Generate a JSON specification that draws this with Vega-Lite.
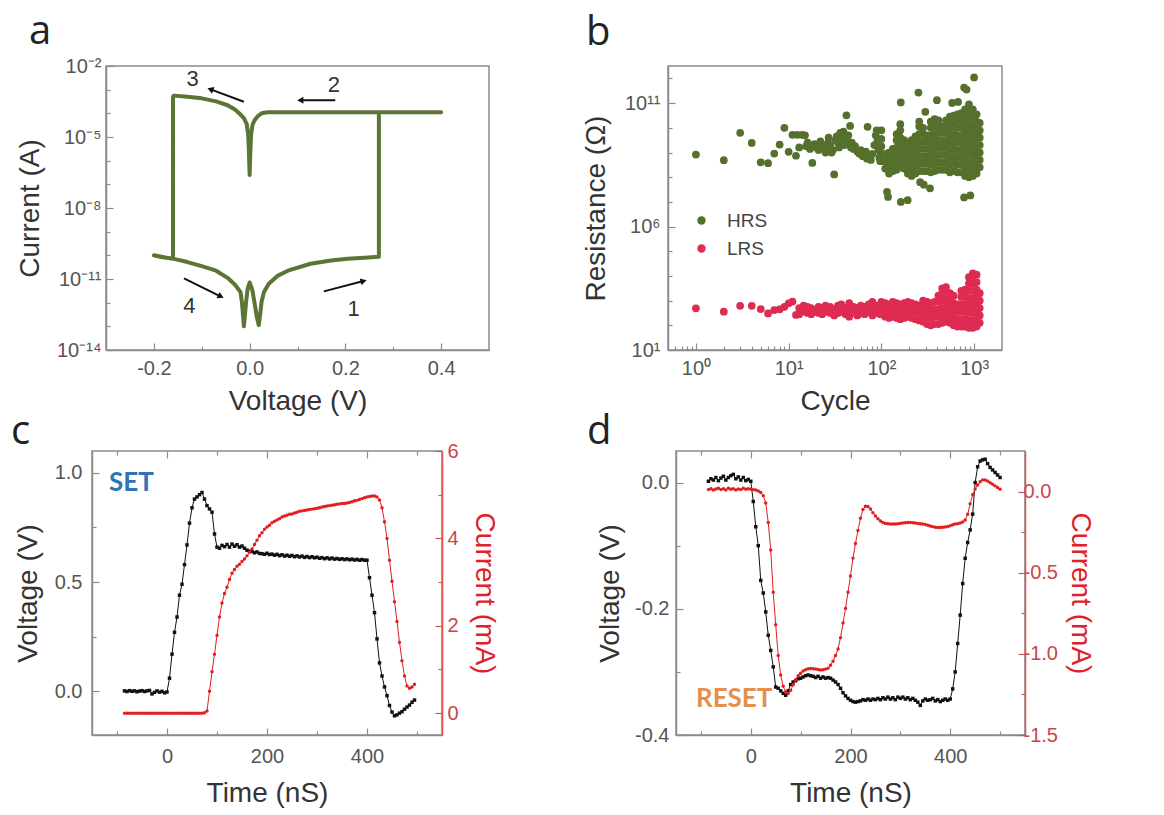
{
  "$schema": "https://vega.github.io/schema/vega-lite/v6.json",
  "background": "white",
  "padding": {"left": 10, "top": 11, "right": 4, "bottom": 4},
  "config": {
    "font": "Liberation Sans",
    "view": {"stroke": "#8c8c8c", "strokeWidth": 1.5},
    "axis": {"domainColor": "#8c8c8c", "domainWidth": 1.5, "tickColor": "#8c8c8c", "tickWidth": 1.2, "labelColor": "#555555", "labelFontSize": 20, "labelFont": "Liberation Sans", "titleFont": "Liberation Sans", "titleFontSize": 28, "titleFontWeight": "normal", "titleColor": "#333333", "grid": false, "labelFlush": false, "labelOverlap": false},
    "title": {"font": "Open Sans", "fontSize": 40, "fontWeight": "normal", "color": "#222222", "anchor": "start", "frame": "group", "baseline": "alphabetic"}
  },
  "datasets": {
    "iv": [{"k":1,"v":0,"i":7.1e-12},{"k":2,"v":0.006,"i":3.2e-12},{"k":3,"v":0.011,"i":7.9e-13},{"k":4,"v":0.015,"i":2.5e-13},{"k":5,"v":0.019,"i":1.12e-13},{"k":6,"v":0.022,"i":3.2e-13},{"k":7,"v":0.025,"i":1.12e-12},{"k":8,"v":0.03,"i":2.8e-12},{"k":9,"v":0.04,"i":6.3e-12},{"k":10,"v":0.058,"i":1.35e-11},{"k":11,"v":0.08,"i":2.24e-11},{"k":12,"v":0.127,"i":4.4e-11},{"k":13,"v":0.17,"i":6.0e-11},{"k":14,"v":0.204,"i":7.1e-11},{"k":15,"v":0.24,"i":7.9e-11},{"k":16,"v":0.27,"i":8.7e-11},{"k":17,"v":0.27,"i":1.12e-4},{"k":18,"v":0.4,"i":1.12e-4},{"k":19,"v":0.037,"i":1.12e-4},{"k":20,"v":0.025,"i":1.0e-4},{"k":21,"v":0.017,"i":7.6e-5},{"k":22,"v":0.01,"i":5.0e-5},{"k":23,"v":0.006,"i":3.2e-5},{"k":24,"v":0.003,"i":1.26e-5},{"k":25,"v":0.0015,"i":2.5e-6},{"k":26,"v":0,"i":2.5e-7},{"k":27,"v":-0.0015,"i":2.5e-6},{"k":28,"v":-0.003,"i":1.26e-5},{"k":29,"v":-0.006,"i":3.5e-5},{"k":30,"v":-0.012,"i":6.3e-5},{"k":31,"v":-0.019,"i":8.9e-5},{"k":32,"v":-0.03,"i":1.41e-4},{"k":33,"v":-0.046,"i":2.2e-4},{"k":34,"v":-0.07,"i":3.2e-4},{"k":35,"v":-0.1,"i":4.3e-4},{"k":36,"v":-0.13,"i":5.0e-4},{"k":37,"v":-0.158,"i":5.6e-4},{"k":38,"v":-0.16,"i":5.0e-4},{"k":39,"v":-0.16,"i":7.1e-11},{"k":40,"v":-0.2,"i":1.0e-10},{"k":41,"v":-0.185,"i":8.5e-11},{"k":42,"v":-0.158,"i":7.1e-11},{"k":43,"v":-0.13,"i":5.2e-11},{"k":44,"v":-0.1,"i":3.5e-11},{"k":45,"v":-0.07,"i":2.24e-11},{"k":46,"v":-0.046,"i":1.12e-11},{"k":47,"v":-0.03,"i":5.6e-12},{"k":48,"v":-0.019,"i":2.8e-12},{"k":49,"v":-0.016,"i":1.0e-12},{"k":50,"v":-0.0135,"i":2.5e-13},{"k":51,"v":-0.012,"i":1.0e-13},{"k":52,"v":-0.01,"i":2.8e-13},{"k":53,"v":-0.007,"i":1.26e-12},{"k":54,"v":-0.004,"i":4.0e-12},{"k":55,"v":0,"i":7.1e-12}],
    "hrs": [{"c":1,"r":8.3e8},{"c":2,"r":4.9e8},{"c":3,"r":6.3e9},{"c":4,"r":2.45e9},{"c":5,"r":4.0e8},{"c":6,"r":3.7e8},{"c":7,"r":9.1e8},{"c":8,"r":2.1e9},{"c":9,"r":1.0e10},{"c":10,"r":1.07e9},{"c":11,"r":5.2e9},{"c":12,"r":7.4e8},{"c":12.4,"r":5.2e9},{"c":13,"r":1.6e9},{"c":14,"r":5.2e9},{"c":15,"r":5.0e9},{"c":15.5,"r":1.8e9},{"c":16,"r":2.5e9},{"c":17,"r":1.4e9},{"c":18,"r":3.8e8},{"c":19,"r":2.2e9},{"c":20,"r":1.6e9},{"c":21,"r":1.26e9},{"c":21.5,"r":2.2e9},{"c":22,"r":2.8e9},{"c":23,"r":2.0e9},{"c":24,"r":1.4e9},{"c":25,"r":1.0e9},{"c":26,"r":1.6e9},{"c":26.5,"r":2.4e9},{"c":27,"r":4.0e9},{"c":28,"r":2.0e9},{"c":29,"r":1.0e9},{"c":30,"r":1.26e9},{"c":31,"r":1.3e8},{"c":32,"r":3.2e9},{"c":33,"r":4.5e9},{"c":34,"r":2.5e9},{"c":35,"r":1.6e9},{"c":36,"r":6.3e9},{"c":37,"r":4.0e9},{"c":38,"r":3.2e9},{"c":39,"r":7.1e9},{"c":40,"r":2.0e9},{"c":42,"r":3.2e10},{"c":43,"r":3.0e9},{"c":44,"r":5.0e9},{"c":46,"r":1.2e10},{"c":47,"r":1.6e9},{"c":48,"r":2.5e9},{"c":50,"r":1.4e9},{"c":52,"r":1.8e9},{"c":55,"r":1.1e9},{"c":58,"r":8.9e8},{"c":60,"r":1.26e9},{"c":63,"r":7.1e8},{"c":66,"r":7.9e8},{"c":68,"r":1.1e9},{"c":70,"r":5.6e8},{"c":71,"r":1.1e10},{"c":74,"r":7.1e8},{"c":77,"r":5.0e8},{"c":80,"r":8.9e8},{"c":84,"r":2.0e9},{"c":87,"r":5.0e9},{"c":89,"r":7.9e9},{"c":91,"r":3.2e9},{"c":93,"r":1.26e9},{"c":95,"r":6.3e8},{"c":97,"r":4.5e8},
      {"c":100,"r":4.47e8},{"c":100,"r":8.91e8},{"c":100,"r":1.78e9},{"c":100,"r":3.55e9},{"c":100,"r":7.94e9},
      {"c":110,"r":2.24e8},{"c":110,"r":4.47e8},{"c":110,"r":8.91e8},
      {"c":121,"r":1.41e8},{"c":121,"r":2.82e8},{"c":121,"r":5.62e8},{"c":121,"r":1e9},
      {"c":133,"r":1.78e8},{"c":133,"r":3.55e8},{"c":133,"r":7.08e8},{"c":133,"r":1.41e9},
      {"c":146,"r":2e8},{"c":146,"r":3.98e8},{"c":146,"r":7.94e8},{"c":146,"r":1.58e9},{"c":146,"r":3.16e9},{"c":146,"r":5.62e9},
      {"c":160,"r":2.51e8},{"c":160,"r":5.01e8},{"c":160,"r":1e9},{"c":160,"r":2e9},{"c":160,"r":3.98e9},{"c":160,"r":7.94e9},{"c":160,"r":1.41e10},
      {"c":176,"r":2.24e8},{"c":176,"r":4.47e8},{"c":176,"r":8.91e8},{"c":176,"r":1.78e9},{"c":176,"r":3.16e9},
      {"c":193,"r":1.41e8},{"c":193,"r":2.82e8},{"c":193,"r":5.62e8},{"c":193,"r":1.12e9},{"c":193,"r":2.24e9},
      {"c":212,"r":1.12e8},{"c":212,"r":2.24e8},{"c":212,"r":4.47e8},{"c":212,"r":8.91e8},{"c":212,"r":1.78e9},{"c":212,"r":3.16e9},
      {"c":233,"r":1.41e8},{"c":233,"r":2.82e8},{"c":233,"r":5.62e8},{"c":233,"r":1.12e9},{"c":233,"r":2.24e9},{"c":233,"r":4.47e9},
      {"c":256,"r":1.78e8},{"c":256,"r":3.55e8},{"c":256,"r":7.08e8},{"c":256,"r":1.41e9},{"c":256,"r":2.82e9},{"c":256,"r":5.62e9},{"c":256,"r":1.12e10},{"c":256,"r":1.78e10},
      {"c":282,"r":1.78e8},{"c":282,"r":3.55e8},{"c":282,"r":7.08e8},{"c":282,"r":1.41e9},{"c":282,"r":2.82e9},{"c":282,"r":5.62e9},{"c":282,"r":1e10},
      {"c":310,"r":1.78e8},{"c":310,"r":3.55e8},{"c":310,"r":7.08e8},{"c":310,"r":1.41e9},{"c":310,"r":2.82e9},{"c":310,"r":5.01e9},
      {"c":341,"r":1.58e8},{"c":341,"r":3.16e8},{"c":341,"r":6.31e8},{"c":341,"r":1.26e9},{"c":341,"r":2.51e9},{"c":341,"r":5.01e9},{"c":341,"r":1e10},{"c":341,"r":1.78e10},
      {"c":375,"r":1.78e8},{"c":375,"r":3.55e8},{"c":375,"r":7.08e8},{"c":375,"r":1.41e9},{"c":375,"r":2.82e9},{"c":375,"r":5.62e9},{"c":375,"r":1.12e10},{"c":375,"r":2.24e10},
      {"c":412,"r":2e8},{"c":412,"r":3.98e8},{"c":412,"r":7.94e8},{"c":412,"r":1.58e9},{"c":412,"r":3.16e9},{"c":412,"r":6.31e9},{"c":412,"r":1.26e10},{"c":412,"r":2e10},
      {"c":453,"r":2e8},{"c":453,"r":3.98e8},{"c":453,"r":7.94e8},{"c":453,"r":1.58e9},{"c":453,"r":3.16e9},{"c":453,"r":6.31e9},{"c":453,"r":1.12e10},
      {"c":498,"r":2e8},{"c":498,"r":3.98e8},{"c":498,"r":7.94e8},{"c":498,"r":1.58e9},{"c":498,"r":3.16e9},{"c":498,"r":6.31e9},{"c":498,"r":1.26e10},{"c":498,"r":2e10},
      {"c":548,"r":1.58e8},{"c":548,"r":3.16e8},{"c":548,"r":6.31e8},{"c":548,"r":1.26e9},{"c":548,"r":2.51e9},{"c":548,"r":5.01e9},{"c":548,"r":1e10},{"c":548,"r":2e10},{"c":548,"r":2.82e10},
      {"c":602,"r":1.78e8},{"c":602,"r":3.55e8},{"c":602,"r":7.08e8},{"c":602,"r":1.41e9},{"c":602,"r":2.82e9},{"c":602,"r":5.62e9},{"c":602,"r":1.12e10},{"c":602,"r":2.24e10},{"c":602,"r":3.16e10},
      {"c":662,"r":1.58e8},{"c":662,"r":3.16e8},{"c":662,"r":6.31e8},{"c":662,"r":1.26e9},{"c":662,"r":2.51e9},{"c":662,"r":5.01e9},{"c":662,"r":1e10},{"c":662,"r":2e10},{"c":662,"r":3.55e10},
      {"c":728,"r":1.58e8},{"c":728,"r":3.16e8},{"c":728,"r":6.31e8},{"c":728,"r":1.26e9},{"c":728,"r":2.51e9},{"c":728,"r":5.01e9},{"c":728,"r":1e10},{"c":728,"r":2e10},{"c":728,"r":3.98e10},
      {"c":800,"r":1.12e8},{"c":800,"r":2.24e8},{"c":800,"r":4.47e8},{"c":800,"r":8.91e8},{"c":800,"r":1.78e9},{"c":800,"r":3.55e9},{"c":800,"r":7.08e9},{"c":800,"r":1.41e10},{"c":800,"r":2.82e10},{"c":800,"r":5.62e10},
      {"c":880,"r":1e8},{"c":880,"r":2e8},{"c":880,"r":3.98e8},{"c":880,"r":7.94e8},{"c":880,"r":1.58e9},{"c":880,"r":3.16e9},{"c":880,"r":6.31e9},{"c":880,"r":1.26e10},{"c":880,"r":2.51e10},{"c":880,"r":5.01e10},{"c":880,"r":8.91e10},
      {"c":968,"r":1.12e8},{"c":968,"r":2.24e8},{"c":968,"r":4.47e8},{"c":968,"r":8.91e8},{"c":968,"r":1.78e9},{"c":968,"r":3.55e9},{"c":968,"r":7.08e9},{"c":968,"r":1.41e10},{"c":968,"r":2.82e10},{"c":968,"r":5.62e10},
      {"c":1064,"r":1.41e8},{"c":1064,"r":2.82e8},{"c":1064,"r":5.62e8},{"c":1064,"r":1.12e9},{"c":1064,"r":2.24e9},{"c":1064,"r":4.47e9},{"c":1064,"r":8.91e9},{"c":1064,"r":1.78e10},{"c":1064,"r":3.55e10},
      {"c":1150,"r":2.51e8},{"c":1150,"r":5.01e8},{"c":1150,"r":1e9},{"c":1150,"r":2e9},{"c":1150,"r":3.98e9},{"c":1150,"r":7.94e9},{"c":1150,"r":1.58e10},
      {"c":115,"r":2.57e7},{"c":118,"r":1.58e7},{"c":162,"r":1.07e11},{"c":162,"r":1e7},{"c":192,"r":1.17e7},{"c":251,"r":2.69e11},{"c":262,"r":6.3e7},{"c":287,"r":5.0e7},{"c":298,"r":4.47e10},{"c":335,"r":3.55e7},{"c":397,"r":1.32e11},{"c":580,"r":1.02e11},{"c":672,"r":1.12e11},{"c":780,"r":4.27e11},{"c":830,"r":3.55e11},{"c":780,"r":1.51e7},{"c":910,"r":1.82e7},{"c":1000,"r":1.1e12}],
    "lrs": [{"c":1,"r":490},{"c":2,"r":355},{"c":3,"r":617},{"c":4,"r":617},{"c":5,"r":457},{"c":6,"r":302},{"c":7,"r":417},{"c":8,"r":447},{"c":9,"r":562},{"c":10,"r":776},{"c":11,"r":912},{"c":12,"r":263},
      {"c":13,"r":282},{"c":13,"r":501},{"c":14.5,"r":355},{"c":14.5,"r":631},{"c":16,"r":316},{"c":16,"r":562},{"c":17.5,"r":282},{"c":17.5,"r":501},{"c":19,"r":355},{"c":21,"r":316},{"c":21,"r":562},{"c":23,"r":282},{"c":23,"r":501},{"c":25,"r":355},{"c":25,"r":631},{"c":28,"r":316},{"c":28,"r":562},{"c":31,"r":251},{"c":31,"r":447},{"c":34,"r":316},{"c":34,"r":631},{"c":37,"r":355},{"c":37,"r":708},{"c":41,"r":282},{"c":41,"r":501},{"c":45,"r":224},{"c":45,"r":447},{"c":45,"r":794},{"c":50,"r":316},{"c":50,"r":562},{"c":55,"r":251},{"c":55,"r":501},{"c":60,"r":316},{"c":60,"r":631},{"c":66,"r":282},{"c":66,"r":562},{"c":73,"r":355},{"c":73,"r":708},{"c":80,"r":251},{"c":80,"r":501},{"c":80,"r":891},{"c":88,"r":316},{"c":88,"r":631},{"c":97,"r":282},{"c":97,"r":562},
      {"c":100,"r":282},{"c":100,"r":562},{"c":100,"r":891},
      {"c":110,"r":224},{"c":110,"r":447},{"c":110,"r":794},
      {"c":121,"r":200},{"c":121,"r":398},{"c":121,"r":708},
      {"c":133,"r":224},{"c":133,"r":447},{"c":133,"r":891},
      {"c":146,"r":200},{"c":146,"r":398},{"c":146,"r":794},
      {"c":160,"r":178},{"c":160,"r":355},{"c":160,"r":708},
      {"c":176,"r":200},{"c":176,"r":398},{"c":176,"r":794},
      {"c":193,"r":224},{"c":193,"r":447},{"c":193,"r":891},
      {"c":212,"r":200},{"c":212,"r":398},{"c":212,"r":794},
      {"c":233,"r":178},{"c":233,"r":355},{"c":233,"r":708},
      {"c":256,"r":158},{"c":256,"r":316},{"c":256,"r":631},
      {"c":282,"r":141},{"c":282,"r":282},{"c":282,"r":562},{"c":282,"r":1000},
      {"c":310,"r":112},{"c":310,"r":224},{"c":310,"r":447},{"c":310,"r":891},
      {"c":341,"r":100},{"c":341,"r":200},{"c":341,"r":398},{"c":341,"r":794},
      {"c":375,"r":112},{"c":375,"r":224},{"c":375,"r":447},{"c":375,"r":891},
      {"c":412,"r":112},{"c":412,"r":224},{"c":412,"r":447},{"c":412,"r":891},{"c":412,"r":1585},
      {"c":453,"r":126},{"c":453,"r":251},{"c":453,"r":501},{"c":453,"r":1000},{"c":453,"r":1995},{"c":453,"r":3162},
      {"c":498,"r":141},{"c":498,"r":282},{"c":498,"r":562},{"c":498,"r":1122},{"c":498,"r":2239},{"c":498,"r":3548},
      {"c":548,"r":126},{"c":548,"r":251},{"c":548,"r":501},{"c":548,"r":1000},{"c":548,"r":1995},
      {"c":602,"r":100},{"c":602,"r":200},{"c":602,"r":398},{"c":602,"r":794},{"c":602,"r":1585},
      {"c":662,"r":89},{"c":662,"r":178},{"c":662,"r":355},{"c":662,"r":708},
      {"c":728,"r":89},{"c":728,"r":178},{"c":728,"r":355},{"c":728,"r":708},{"c":728,"r":1413},{"c":728,"r":2512},
      {"c":800,"r":89},{"c":800,"r":178},{"c":800,"r":355},{"c":800,"r":708},{"c":800,"r":1413},{"c":800,"r":2818},
      {"c":880,"r":79},{"c":880,"r":158},{"c":880,"r":316},{"c":880,"r":631},{"c":880,"r":1259},{"c":880,"r":2512},{"c":880,"r":5012},{"c":880,"r":8913},
      {"c":968,"r":79},{"c":968,"r":158},{"c":968,"r":316},{"c":968,"r":631},{"c":968,"r":1259},{"c":968,"r":2512},{"c":968,"r":5012},{"c":968,"r":10000},{"c":968,"r":12589},
      {"c":1064,"r":89},{"c":1064,"r":178},{"c":1064,"r":355},{"c":1064,"r":708},{"c":1064,"r":1413},{"c":1064,"r":2818},{"c":1064,"r":5623},{"c":1064,"r":11220},
      {"c":1150,"r":126},{"c":1150,"r":251},{"c":1150,"r":501},{"c":1150,"r":1000},{"c":1150,"r":1995}],
    "setp": [{"t":-85,"v":0.002,"i":0},{"t":-80,"v":-0.001,"i":0},{"t":-75,"v":0.003,"i":0},{"t":-70,"v":0.0,"i":0},{"t":-65,"v":0.002,"i":0},{"t":-60,"v":-0.002,"i":0},{"t":-55,"v":0.001,"i":0},{"t":-50,"v":0.003,"i":0},{"t":-45,"v":-0.001,"i":0},{"t":-40,"v":0.002,"i":0},{"t":-35,"v":0.004,"i":0},{"t":-30,"v":-0.012,"i":0},{"t":-25,"v":-0.005,"i":0},{"t":-20,"v":0.002,"i":0},{"t":-15,"v":-0.004,"i":0},{"t":-10,"v":0.0,"i":0},{"t":-5,"v":-0.007,"i":0},{"t":0,"v":-0.003,"i":0},{"t":5,"v":0.06,"i":0},{"t":10,"v":0.17,"i":0},{"t":15,"v":0.27,"i":0},{"t":20,"v":0.34,"i":0},{"t":25,"v":0.44,"i":0},{"t":30,"v":0.49,"i":0},{"t":35,"v":0.58,"i":0},{"t":40,"v":0.67,"i":0},{"t":45,"v":0.77,"i":0},{"t":50,"v":0.84,"i":0},{"t":55,"v":0.88,"i":0},{"t":60,"v":0.89,"i":0},{"t":65,"v":0.9,"i":0},{"t":70,"v":0.91,"i":0},{"t":75,"v":0.88,"i":0.01},{"t":80,"v":0.85,"i":0.05},{"t":85,"v":0.835,"i":0.5},{"t":90,"v":0.82,"i":0.95},{"t":95,"v":0.72,"i":1.35},{"t":100,"v":0.66,"i":1.78},{"t":105,"v":0.655,"i":2.2},{"t":110,"v":0.668,"i":2.52},{"t":115,"v":0.662,"i":2.74},{"t":120,"v":0.672,"i":2.88},{"t":125,"v":0.66,"i":3.06},{"t":130,"v":0.674,"i":3.2},{"t":135,"v":0.664,"i":3.29},{"t":140,"v":0.671,"i":3.36},{"t":145,"v":0.66,"i":3.41},{"t":150,"v":0.665,"i":3.47},{"t":155,"v":0.655,"i":3.53},{"t":160,"v":0.646,"i":3.6},{"t":165,"v":0.641,"i":3.68},{"t":170,"v":0.64,"i":3.76},{"t":175,"v":0.634,"i":3.86},{"t":180,"v":0.638,"i":3.96},{"t":185,"v":0.631,"i":4.06},{"t":190,"v":0.63,"i":4.13},{"t":195,"v":0.627,"i":4.21},{"t":200,"v":0.632,"i":4.26},{"t":205,"v":0.626,"i":4.3},{"t":210,"v":0.628,"i":4.36},{"t":215,"v":0.623,"i":4.39},{"t":220,"v":0.627,"i":4.42},{"t":225,"v":0.621,"i":4.45},{"t":230,"v":0.625,"i":4.49},{"t":235,"v":0.619,"i":4.51},{"t":240,"v":0.623,"i":4.53},{"t":245,"v":0.618,"i":4.55},{"t":250,"v":0.622,"i":4.56},{"t":255,"v":0.616,"i":4.58},{"t":260,"v":0.62,"i":4.6},{"t":265,"v":0.615,"i":4.62},{"t":270,"v":0.619,"i":4.63},{"t":275,"v":0.613,"i":4.64},{"t":280,"v":0.617,"i":4.65},{"t":285,"v":0.612,"i":4.66},{"t":290,"v":0.616,"i":4.67},{"t":295,"v":0.611,"i":4.68},{"t":300,"v":0.614,"i":4.69},{"t":305,"v":0.609,"i":4.7},{"t":310,"v":0.612,"i":4.72},{"t":315,"v":0.607,"i":4.73},{"t":320,"v":0.611,"i":4.74},{"t":325,"v":0.606,"i":4.75},{"t":330,"v":0.61,"i":4.76},{"t":335,"v":0.605,"i":4.77},{"t":340,"v":0.608,"i":4.78},{"t":345,"v":0.604,"i":4.79},{"t":350,"v":0.607,"i":4.8},{"t":355,"v":0.603,"i":4.8},{"t":360,"v":0.606,"i":4.81},{"t":365,"v":0.602,"i":4.82},{"t":370,"v":0.605,"i":4.84},{"t":375,"v":0.601,"i":4.86},{"t":380,"v":0.604,"i":4.87},{"t":385,"v":0.6,"i":4.89},{"t":390,"v":0.603,"i":4.91},{"t":395,"v":0.6,"i":4.93},{"t":400,"v":0.6,"i":4.95},{"t":405,"v":0.52,"i":4.96},{"t":410,"v":0.44,"i":4.97},{"t":415,"v":0.36,"i":4.97},{"t":420,"v":0.24,"i":4.95},{"t":425,"v":0.13,"i":4.88},{"t":430,"v":0.07,"i":4.7},{"t":435,"v":0.02,"i":4.38},{"t":440,"v":-0.02,"i":4.0},{"t":445,"v":-0.065,"i":3.5},{"t":450,"v":-0.095,"i":3.02},{"t":455,"v":-0.112,"i":2.55},{"t":460,"v":-0.108,"i":2.1},{"t":465,"v":-0.1,"i":1.62},{"t":470,"v":-0.093,"i":1.2},{"t":475,"v":-0.082,"i":0.85},{"t":480,"v":-0.072,"i":0.62},{"t":485,"v":-0.063,"i":0.57},{"t":490,"v":-0.05,"i":0.6},{"t":495,"v":-0.04,"i":0.66}],
    "resetp": [{"t":-85,"v":0.002,"i":0.012},{"t":-80,"v":0.006,"i":0.018},{"t":-75,"v":0.004,"i":0.01},{"t":-70,"v":0.008,"i":0.016},{"t":-65,"v":0.003,"i":0.02},{"t":-60,"v":0.007,"i":0.012},{"t":-55,"v":0.01,"i":0.017},{"t":-50,"v":0.004,"i":0.01},{"t":-45,"v":0.008,"i":0.02},{"t":-40,"v":0.011,"i":0.014},{"t":-35,"v":0.013,"i":0.018},{"t":-30,"v":0.006,"i":0.01},{"t":-25,"v":0.009,"i":0.016},{"t":-20,"v":0.004,"i":0.012},{"t":-15,"v":0.008,"i":0.02},{"t":-10,"v":0.003,"i":0.014},{"t":-5,"v":0.005,"i":0.018},{"t":0,"v":0.002,"i":0.015},{"t":5,"v":-0.03,"i":0.012},{"t":10,"v":-0.07,"i":0.01},{"t":15,"v":-0.1,"i":0.003},{"t":20,"v":-0.155,"i":-0.005},{"t":25,"v":-0.175,"i":-0.025},{"t":30,"v":-0.205,"i":-0.07},{"t":35,"v":-0.242,"i":-0.19},{"t":40,"v":-0.266,"i":-0.36},{"t":45,"v":-0.292,"i":-0.62},{"t":50,"v":-0.324,"i":-0.82},{"t":55,"v":-0.326,"i":-1.01},{"t":60,"v":-0.33,"i":-1.13},{"t":65,"v":-0.334,"i":-1.2},{"t":70,"v":-0.337,"i":-1.235},{"t":75,"v":-0.33,"i":-1.245},{"t":80,"v":-0.32,"i":-1.225},{"t":85,"v":-0.316,"i":-1.19},{"t":90,"v":-0.314,"i":-1.16},{"t":95,"v":-0.311,"i":-1.135},{"t":100,"v":-0.31,"i":-1.12},{"t":105,"v":-0.308,"i":-1.105},{"t":110,"v":-0.306,"i":-1.098},{"t":115,"v":-0.305,"i":-1.092},{"t":120,"v":-0.306,"i":-1.09},{"t":125,"v":-0.307,"i":-1.092},{"t":130,"v":-0.309,"i":-1.093},{"t":135,"v":-0.307,"i":-1.096},{"t":140,"v":-0.31,"i":-1.1},{"t":145,"v":-0.308,"i":-1.098},{"t":150,"v":-0.31,"i":-1.094},{"t":155,"v":-0.309,"i":-1.088},{"t":160,"v":-0.31,"i":-1.07},{"t":165,"v":-0.313,"i":-1.045},{"t":170,"v":-0.316,"i":-1.01},{"t":175,"v":-0.32,"i":-0.97},{"t":180,"v":-0.326,"i":-0.9},{"t":185,"v":-0.333,"i":-0.81},{"t":190,"v":-0.338,"i":-0.72},{"t":195,"v":-0.342,"i":-0.62},{"t":200,"v":-0.345,"i":-0.52},{"t":205,"v":-0.347,"i":-0.41},{"t":210,"v":-0.348,"i":-0.32},{"t":215,"v":-0.347,"i":-0.24},{"t":220,"v":-0.346,"i":-0.165},{"t":225,"v":-0.344,"i":-0.11},{"t":230,"v":-0.345,"i":-0.09},{"t":235,"v":-0.343,"i":-0.092},{"t":240,"v":-0.345,"i":-0.108},{"t":245,"v":-0.343,"i":-0.13},{"t":250,"v":-0.344,"i":-0.15},{"t":255,"v":-0.342,"i":-0.168},{"t":260,"v":-0.344,"i":-0.182},{"t":265,"v":-0.341,"i":-0.19},{"t":270,"v":-0.343,"i":-0.196},{"t":275,"v":-0.34,"i":-0.198},{"t":280,"v":-0.343,"i":-0.2},{"t":285,"v":-0.341,"i":-0.2},{"t":290,"v":-0.344,"i":-0.2},{"t":295,"v":-0.34,"i":-0.198},{"t":300,"v":-0.342,"i":-0.196},{"t":305,"v":-0.34,"i":-0.194},{"t":310,"v":-0.343,"i":-0.192},{"t":315,"v":-0.341,"i":-0.19},{"t":320,"v":-0.344,"i":-0.19},{"t":325,"v":-0.342,"i":-0.192},{"t":330,"v":-0.345,"i":-0.194},{"t":335,"v":-0.348,"i":-0.196},{"t":340,"v":-0.353,"i":-0.198},{"t":345,"v":-0.346,"i":-0.2},{"t":350,"v":-0.343,"i":-0.203},{"t":355,"v":-0.345,"i":-0.207},{"t":360,"v":-0.344,"i":-0.212},{"t":365,"v":-0.342,"i":-0.216},{"t":370,"v":-0.346,"i":-0.22},{"t":375,"v":-0.344,"i":-0.222},{"t":380,"v":-0.347,"i":-0.222},{"t":385,"v":-0.345,"i":-0.22},{"t":390,"v":-0.343,"i":-0.218},{"t":395,"v":-0.345,"i":-0.215},{"t":400,"v":-0.343,"i":-0.21},{"t":405,"v":-0.327,"i":-0.205},{"t":410,"v":-0.3,"i":-0.2},{"t":415,"v":-0.255,"i":-0.198},{"t":420,"v":-0.21,"i":-0.194},{"t":425,"v":-0.16,"i":-0.188},{"t":430,"v":-0.12,"i":-0.175},{"t":435,"v":-0.095,"i":-0.14},{"t":440,"v":-0.075,"i":-0.075},{"t":445,"v":-0.05,"i":-0.02},{"t":450,"v":0.0,"i":0.015},{"t":455,"v":0.025,"i":0.04},{"t":460,"v":0.034,"i":0.06},{"t":465,"v":0.036,"i":0.072},{"t":470,"v":0.037,"i":0.072},{"t":475,"v":0.03,"i":0.065},{"t":480,"v":0.024,"i":0.055},{"t":485,"v":0.02,"i":0.045},{"t":490,"v":0.016,"i":0.035},{"t":495,"v":0.012,"i":0.025},{"t":500,"v":0.008,"i":0.014}]
  },
  "vconcat": [
    {
      "hconcat": [
        {
          "width": 1, "height": 284,
          "view": {"stroke": null},
          "data": {"values": []},
          "mark": {"type": "point", "opacity": 0},
          "encoding": {}
        },
        {
          "hconcat": [
            {
              "width": 383, "height": 284,
              "title": {"text": "a", "dx": -77, "offset": 4},
              "layer": [
                {
                  "data": {"name": "iv"},
                  "mark": {"type": "line", "color": "#5b7534", "strokeWidth": 4, "strokeJoin": "round", "strokeCap": "round"},
                  "encoding": {
                    "x": {"field": "v", "type": "quantitative", "scale": {"domain": [-0.3, 0.5], "nice": false, "zero": false},
                      "axis": {"title": "Voltage (V)", "values": [-0.2, -0.1, 0, 0.1, 0.2, 0.3, 0.4], "labelExpr": "abs(round(datum.value*10)) % 2 == 0 ? replace(format(datum.value, '.1f'), '−', '-') : ''", "tickSize": {"condition": {"test": "abs(round(datum.value*10)) % 2 == 0", "value": -7}, "value": -4}, "labelPadding": 15, "titlePadding": 6}},
                    "y": {"field": "i", "type": "quantitative", "scale": {"type": "log", "domain": [1e-14, 1e-2], "nice": false},
                      "axis": {"title": "Current (A)", "values": [1e-14, 1e-13, 1e-12, 1e-11, 1e-10, 1e-9, 1e-8, 1e-7, 1e-6, 1e-5, 1e-4, 1e-3, 1e-2], "labelExpr": "round(log(datum.value)/LN10) == -2 ? '10⁻²' : round(log(datum.value)/LN10) == -5 ? '10⁻⁵' : round(log(datum.value)/LN10) == -8 ? '10⁻⁸' : round(log(datum.value)/LN10) == -11 ? '10⁻¹¹' : round(log(datum.value)/LN10) == -14 ? '10⁻¹⁴' : ''", "tickSize": {"condition": {"test": "round(log(datum.value)/LN10) % 3 == -2", "value": -7}, "value": -4}, "labelPadding": 12, "titlePadding": 12}},
                    "order": {"field": "k", "type": "quantitative"}
                  }
                },
                {"data": {"values": [{}]}, "mark": {"type": "rule", "color": "#111111", "strokeWidth": 2}, "encoding": {"x": {"datum": 0.155}, "y": {"datum": 3.0e-12}, "x2": {"datum": 0.236}, "y2": {"datum": 8.0e-12}}},
                {"data": {"values": [{}]}, "mark": {"type": "point", "shape": "triangle", "filled": true, "size": 50, "angle": 75, "color": "#111111", "opacity": 1}, "encoding": {"x": {"datum": 0.236}, "y": {"datum": 8.0e-12}}},
                {"data": {"values": [{}]}, "mark": {"type": "rule", "color": "#111111", "strokeWidth": 2}, "encoding": {"x": {"datum": 0.179}, "y": {"datum": 3.6e-4}, "x2": {"datum": 0.108}, "y2": {"datum": 3.6e-4}}},
                {"data": {"values": [{}]}, "mark": {"type": "point", "shape": "triangle", "filled": true, "size": 50, "angle": 270, "color": "#111111", "opacity": 1}, "encoding": {"x": {"datum": 0.108}, "y": {"datum": 3.6e-4}}},
                {"data": {"values": [{}]}, "mark": {"type": "rule", "color": "#111111", "strokeWidth": 2}, "encoding": {"x": {"datum": -0.012}, "y": {"datum": 3.1e-4}, "x2": {"datum": -0.08}, "y2": {"datum": 1.0e-3}}},
                {"data": {"values": [{}]}, "mark": {"type": "point", "shape": "triangle", "filled": true, "size": 50, "angle": 291, "color": "#111111", "opacity": 1}, "encoding": {"x": {"datum": -0.08}, "y": {"datum": 1.0e-3}}},
                {"data": {"values": [{}]}, "mark": {"type": "rule", "color": "#111111", "strokeWidth": 2}, "encoding": {"x": {"datum": -0.137}, "y": {"datum": 1.07e-11}, "x2": {"datum": -0.062}, "y2": {"datum": 1.9e-12}}},
                {"data": {"values": [{}]}, "mark": {"type": "point", "shape": "triangle", "filled": true, "size": 50, "angle": 116, "color": "#111111", "opacity": 1}, "encoding": {"x": {"datum": -0.062}, "y": {"datum": 1.9e-12}}},
                {"data": {"values": [{"n": "1", "v": 0.217, "i": 5.4e-13}, {"n": "2", "v": 0.176, "i": 1.55e-3}, {"n": "3", "v": -0.119, "i": 2.95e-3}, {"n": "4", "v": -0.126, "i": 7.4e-13}]},
                 "mark": {"type": "text", "fontSize": 22, "color": "#333333", "align": "center", "baseline": "middle", "font": "Liberation Sans"},
                 "encoding": {"x": {"field": "v", "type": "quantitative"}, "y": {"field": "i", "type": "quantitative"}, "text": {"field": "n"}}}
              ]
            },
            {
              "width": 334, "height": 284,
              "title": {"text": "b", "dx": -82, "offset": 13},
              "layer": [
                {
                  "data": {"name": "hrs"},
                  "mark": {"type": "circle", "size": 60, "opacity": 1},
                  "encoding": {
                    "x": {"field": "c", "type": "quantitative", "scale": {"type": "log", "domain": [0.5, 2000], "nice": false},
                      "axis": {"title": "Cycle", "values": [0.6, 0.7, 0.8, 0.9, 1, 2, 3, 4, 5, 6, 7, 8, 9, 10, 20, 30, 40, 50, 60, 70, 80, 90, 100, 200, 300, 400, 500, 600, 700, 800, 900, 1000], "labelExpr": "datum.value == 1 ? '10⁰' : datum.value == 10 ? '10¹' : datum.value == 100 ? '10²' : datum.value == 1000 ? '10³' : ''", "tickSize": {"condition": {"test": "datum.value == 1 || datum.value == 10 || datum.value == 100 || datum.value == 1000", "value": -7}, "value": -4}, "labelPadding": 15, "titlePadding": 6}},
                    "y": {"field": "r", "type": "quantitative", "scale": {"type": "log", "domain": [10, 3.2e12], "nice": false},
                      "axis": {"title": "Resistance (Ω)", "values": [10, 100, 1000, 1e4, 1e5, 1e6, 1e7, 1e8, 1e9, 1e10, 1e11, 1e12], "labelExpr": "datum.value == 10 ? '10¹' : datum.value == 1e6 ? '10⁶' : datum.value == 1e11 ? '10¹¹' : ''", "tickSize": {"condition": {"test": "datum.value == 10 || datum.value == 1e6 || datum.value == 1e11", "value": -7}, "value": -4}, "labelPadding": 15, "titlePadding": 14}},
                    "color": {"datum": "HRS", "type": "nominal", "scale": {"domain": ["HRS", "LRS"], "range": ["#55702c", "#de2b52"]},
                      "legend": {"title": null, "orient": "none", "legendX": 24, "legendY": 145, "padding": 0, "symbolType": "circle", "symbolSize": 70, "labelFontSize": 19, "labelColor": "#444444", "labelFont": "Liberation Sans", "rowPadding": 8, "labelOffset": 16}}
                  }
                },
                {
                  "data": {"name": "lrs"},
                  "mark": {"type": "circle", "size": 60, "opacity": 1},
                  "encoding": {
                    "x": {"field": "c", "type": "quantitative"},
                    "y": {"field": "r", "type": "quantitative"},
                    "color": {"datum": "LRS", "type": "nominal"}
                  }
                }
              ]
            }
          ],
          "spacing": 179,
          "bounds": "flush",
          "resolve": {"scale": {"color": "independent"}, "legend": {"color": "independent"}}
        }
      ],
      "spacing": 13,
      "bounds": "flush",
      "resolve": {"scale": {"color": "independent"}, "legend": {"color": "independent"}}
    },
    {
      "hconcat": [
        {
          "width": 350, "height": 284,
          "title": {"text": "c", "dx": -81, "offset": -11},
          "data": {"name": "setp"},
          "layer": [
            {
              "layer": [
                {
                  "mark": {"type": "line", "color": "#111111", "strokeWidth": 1, "point": {"filled": true, "shape": "square", "size": 12, "color": "#111111"}},
                  "encoding": {
                    "x": {"field": "t", "type": "quantitative", "scale": {"domain": [-150, 550], "nice": false, "zero": false},
                      "axis": {"title": "Time (nS)", "values": [-100, 0, 100, 200, 300, 400, 500], "labelExpr": "datum.value % 200 == 0 ? format(datum.value, 'd') : ''", "tickSize": {"condition": {"test": "datum.value % 200 == 0", "value": -7}, "value": -4}, "labelPadding": 18, "titlePadding": 10}},
                    "y": {"field": "v", "type": "quantitative", "scale": {"domain": [-0.2, 1.1], "nice": false, "zero": false},
                      "axis": {"title": "Voltage (V)", "values": [0, 0.25, 0.5, 0.75, 1], "labelExpr": "datum.value % 0.5 == 0 ? format(datum.value, '.1f') : ''", "tickSize": {"condition": {"test": "datum.value % 0.5 == 0", "value": -7}, "value": -4}, "labelPadding": 17, "titlePadding": 12}}
                  }
                },
                {
                  "data": {"values": [{}]},
                  "mark": {"type": "text", "text": "SET", "font": "Lato", "fontWeight": "bold", "fontSize": 26, "color": "#2e75b6", "align": "left", "baseline": "alphabetic"},
                  "encoding": {"x": {"datum": -116}, "y": {"datum": 0.918}}
                }
              ]
            },
            {
              "mark": {"type": "line", "color": "#e41e1e", "strokeWidth": 1, "point": {"filled": true, "shape": "circle", "size": 12, "color": "#e41e1e"}},
              "encoding": {
                "x": {"field": "t", "type": "quantitative", "scale": {"domain": [-150, 550], "nice": false, "zero": false},
                  "axis": {"orient": "top", "title": null, "labels": false, "domain": false, "values": [-100, 0, 100, 200, 300, 400, 500], "tickSize": {"condition": {"test": "datum.value % 200 == 0", "value": -7}, "value": -4}}},
                "y": {"field": "i", "type": "quantitative", "scale": {"domain": [-0.5, 6], "nice": false, "zero": false},
                  "axis": {"orient": "right", "title": "Current (mA)", "titleColor": "#e0202a", "labelColor": "#c8464b", "domainColor": "#d9534f", "tickColor": "#d9534f", "values": [0, 1, 2, 3, 4, 5, 6], "labelExpr": "datum.value % 2 == 0 ? format(datum.value, 'd') : ''", "tickSize": {"condition": {"test": "datum.value % 2 == 0", "value": -7}, "value": -4}, "labelPadding": 12, "titlePadding": 11}}
              }
            }
          ],
          "resolve": {"scale": {"y": "independent"}, "axis": {"x": "independent"}}
        },
        {
          "width": 349, "height": 284,
          "title": {"text": "d", "dx": -89, "offset": -2},
          "data": {"name": "resetp"},
          "layer": [
            {
              "layer": [
                {
                  "mark": {"type": "line", "color": "#111111", "strokeWidth": 1, "point": {"filled": true, "shape": "square", "size": 12, "color": "#111111"}},
                  "encoding": {
                    "x": {"field": "t", "type": "quantitative", "scale": {"domain": [-150, 550], "nice": false, "zero": false},
                      "axis": {"title": "Time (nS)", "values": [-100, 0, 100, 200, 300, 400, 500], "labelExpr": "datum.value % 200 == 0 ? format(datum.value, 'd') : ''", "tickSize": {"condition": {"test": "datum.value % 200 == 0", "value": -7}, "value": -4}, "labelPadding": 18, "titlePadding": 10}},
                    "y": {"field": "v", "type": "quantitative", "scale": {"domain": [-0.4, 0.05], "nice": false, "zero": false},
                      "axis": {"title": "Voltage (V)", "values": [-0.4, -0.3, -0.2, -0.1, 0], "labelExpr": "abs(round(datum.value*10)) % 2 == 0 ? replace(format(datum.value, '.1f'), '−', '-') : ''", "tickSize": {"condition": {"test": "abs(round(datum.value*10)) % 2 == 0", "value": -7}, "value": -4}, "labelPadding": 14, "titlePadding": 10}}
                  }
                },
                {
                  "data": {"values": [{}]},
                  "mark": {"type": "text", "text": "RESET", "font": "Lato", "fontWeight": "bold", "fontSize": 26, "color": "#e3904c", "align": "left", "baseline": "alphabetic"},
                  "encoding": {"x": {"datum": -110}, "y": {"datum": -0.356}}
                }
              ]
            },
            {
              "mark": {"type": "line", "color": "#e41e1e", "strokeWidth": 1, "point": {"filled": true, "shape": "circle", "size": 12, "color": "#e41e1e"}},
              "encoding": {
                "x": {"field": "t", "type": "quantitative", "scale": {"domain": [-150, 550], "nice": false, "zero": false},
                  "axis": {"orient": "top", "title": null, "labels": false, "domain": false, "values": [-100, 0, 100, 200, 300, 400, 500], "tickSize": {"condition": {"test": "datum.value % 200 == 0", "value": -7}, "value": -4}}},
                "y": {"field": "i", "type": "quantitative", "scale": {"domain": [-1.5, 0.25], "nice": false, "zero": false},
                  "axis": {"orient": "right", "title": "Current (mA)", "titleColor": "#e0202a", "labelColor": "#c8464b", "domainColor": "#d9534f", "tickColor": "#d9534f", "values": [-1.5, -1.25, -1, -0.75, -0.5, -0.25, 0], "labelExpr": "abs(round(datum.value*4)) % 2 == 0 ? replace(format(datum.value, '.1f'), '−', '-') : ''", "tickSize": {"condition": {"test": "abs(round(datum.value*4)) % 2 == 0", "value": -7}, "value": -4}, "labelPadding": 5, "titlePadding": 8}}
              }
            }
          ],
          "resolve": {"scale": {"y": "independent"}, "axis": {"x": "independent"}}
        }
      ],
      "spacing": 234,
      "bounds": "flush"
    }
  ],
  "spacing": -5
}
